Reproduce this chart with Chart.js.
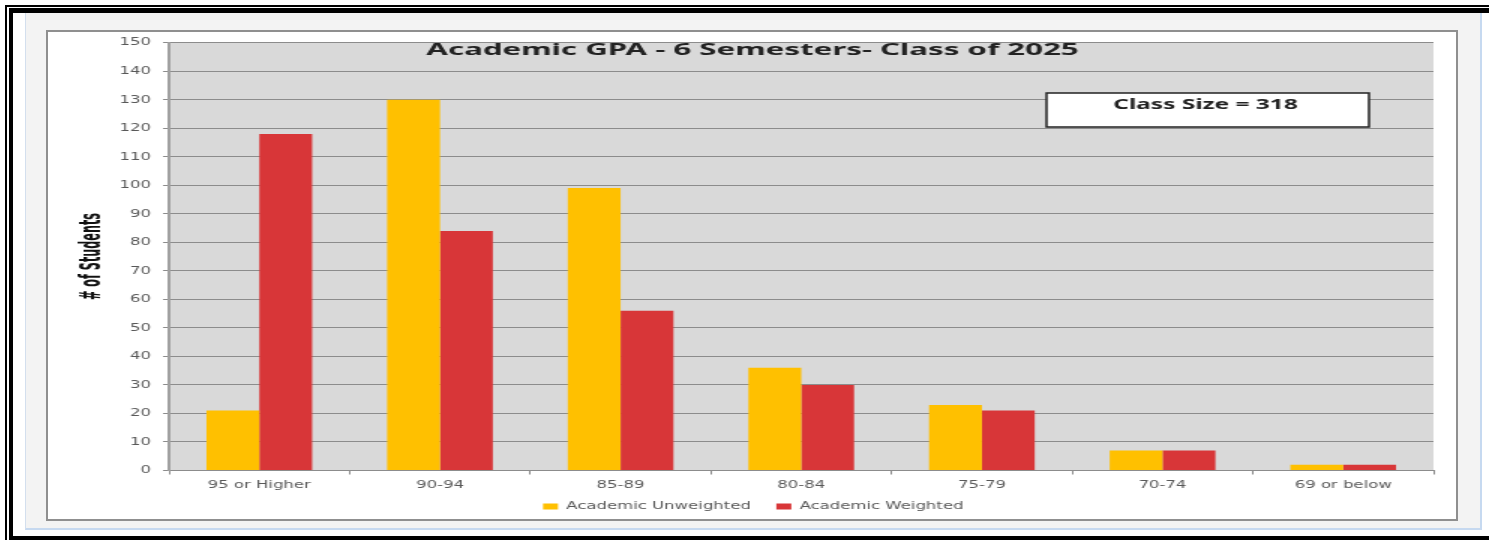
<!DOCTYPE html>
<html>
<head>
<meta charset="utf-8">
<title>Academic GPA - 6 Semesters- Class of 2025</title>
<script src="https://cdn.jsdelivr.net/npm/chart.js@4.4.1/dist/chart.umd.min.js"></script>
<style>
  html, body { margin: 0; padding: 0; background: #fff; }
  body { width: 1489px; height: 540px; overflow: hidden; position: relative; }
  .frameA { position: absolute; left: 5px; top: 5px; width: 1600px; height: 600px; border: 2px solid #000; }
  .frameB { position: absolute; left: 9px; top: 8px; width: 1600px; height: 523px;
            border-top: 5px solid #000; border-left: 4px solid #000; border-bottom: 5px solid #000; }
  .panel { position: absolute; left: 25px; top: 13px; width: 1454px; height: 515px; background: #f3f3f3;
           border-left: 1px solid #d3dfee; border-right: 2px solid #c6d9f0; border-bottom: 2px solid #c6d9f0; }
  .chartBox { position: absolute; left: 46px; top: 30px; width: 1408px; height: 487px; background: #fff;
              border: 2px solid #8f8f8f; }
  #gpaChart { position: absolute; left: 49px; top: 28px; }
</style>
</head>
<body>
<div class="frameA"></div>
<div class="frameB"></div>
<div class="panel"></div>
<div class="chartBox"></div>
<!-- 画布内部 938 宽，横向拉伸到 1407 -->
<canvas id="gpaChart" width="938" height="490" style="width:1407px;height:490px"></canvas>
<script>
// ======================== 数据 ========================
const categories = ['95 or Higher', '90-94', '85-89', '80-84', '75-79', '70-74', '69 or below'];
const unweighted = [21, 130, 99, 36, 23, 7, 2];
const weighted = [118, 84, 56, 30, 21, 7, 2];
const yTicks = [0, 150, 10]; // min, max, step

const chartTitle = 'Academic GPA - 6 Semesters- Class of 2025';
const classSizeText = 'Class Size = 318';
const yAxisTitle = '# of Students';

// 文字按给定宽度绘制
function drawFitText(ctx, text, x, y, width, font, color, angle) {
    ctx.save();
    ctx.translate(x, y);
    if (angle) ctx.rotate(angle);
    ctx.font = font;
    ctx.fillStyle = color;
    ctx.textAlign = 'center';
    ctx.textBaseline = 'middle';
    const w = ctx.measureText(text).width;
    ctx.scale(width / w, 1);
    ctx.fillText(text, 0, 0);
    ctx.restore();
}

// 绘图区背景
const plotBackground = {
    id: 'plotBackground',
    beforeDraw(chart) {
        const { ctx, chartArea: a } = chart;
        ctx.save();
        ctx.fillStyle = '#d9d9d9';
        ctx.fillRect(a.left, a.top, a.right - a.left, a.bottom - a.top);
        ctx.restore();
    }
};

// 标题、班级人数框、Y轴标题
const annotations = {
    id: 'annotations',
    afterDraw(chart) {
        const { ctx } = chart;
        drawFitText(ctx, chartTitle, chart.width / 2, 22, 435, 'bold 16px "Noto Sans"', '#222');

        ctx.save();
        ctx.fillStyle = '#fff';
        ctx.fillRect(665, 65, 215, 34);
        ctx.strokeStyle = '#222';
        ctx.lineWidth = 1.5;
        ctx.strokeRect(665, 65, 215, 34);
        ctx.restore();
        drawFitText(ctx, classSizeText, 771, 77.5, 123, 'bold 14px "Noto Sans"', '#222');

        drawFitText(ctx, yAxisTitle, 29, 228.5, 87, 'bold 20px "Liberation Sans Narrow", "DejaVu Sans Condensed"', '#111', -Math.PI / 2);
    }
};

const tickFont = { family: '"DejaVu Sans", sans-serif', size: 11 };

new Chart(document.getElementById('gpaChart').getContext('2d'), {
    type: 'bar',
    data: {
        labels: categories,
        datasets: [{
            label: 'Academic Unweighted',
            data: unweighted,
            backgroundColor: '#ffc000',
            categoryPercentage: 0.585,
            barPercentage: 1
        }, {
            label: 'Academic Weighted',
            data: weighted,
            backgroundColor: '#d83638',
            categoryPercentage: 0.585,
            barPercentage: 1
        }]
    },
    options: {
        responsive: false,
        devicePixelRatio: 1,
        animation: false,
        layout: { autoPadding: false, padding: { left: 16, right: 15, top: 4, bottom: -4 } },
        plugins: {
            title: { display: false },
            tooltip: { enabled: false },
            legend: {
                position: 'bottom',
                // 空标题 + 负内边距：加大图例项间距但不把图例往下推
                title: { display: true, text: '', font: { size: 11 }, padding: { top: -10, bottom: -9.7 } },
                labels: {
                    font: tickFont,
                    color: '#595959',
                    boxWidth: 10,
                    boxHeight: 6,
                    padding: 17
                }
            }
        },
        scales: {
            x: {
                afterFit(scale) { scale.height = 20; },
                grid: { drawOnChartArea: false, drawTicks: true, tickLength: 4, color: '#8c8c8c' },
                border: { display: true, color: '#8c8c8c', width: 1 },
                ticks: { font: tickFont, color: '#595959', padding: 4, maxRotation: 0, autoSkip: false }
            },
            y: {
                min: yTicks[0],
                max: yTicks[1],
                afterFit(scale) { scale.width = 64; },
                grid: { color: '#8c8c8c', lineWidth: 1, tickLength: 4 },
                border: { display: true, color: '#a0a0a0', width: 2 },
                ticks: { stepSize: yTicks[2], font: tickFont, color: '#595959', padding: 8 }
            }
        }
    },
    plugins: [plotBackground, annotations]
});
</script>
</body>
</html>
